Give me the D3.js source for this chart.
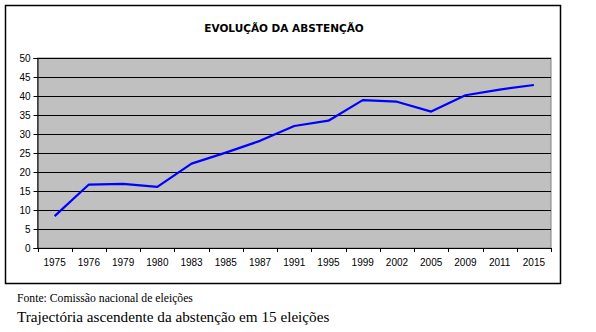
<!DOCTYPE html>
<html>
<head>
<meta charset="utf-8">
<script src="https://cdn.jsdelivr.net/npm/d3@7"></script>
<style>
  html, body { margin: 0; padding: 0; background: #fff; }
  svg { display: block; }
  .note { font-family: "Liberation Serif", "Times New Roman", serif; }
</style>
</head>
<body>
<svg id="chart" width="596" height="332"></svg>
<script>
// Election years and abstention rate (%)
const years = ["1975","1976","1979","1980","1983","1985","1987","1991","1995","1999","2002","2005","2009","2011","2015"];
const abstention = [8.4, 16.7, 16.9, 16.1, 22.2, 25.1, 28.2, 32.1, 33.5, 38.9, 38.5, 35.9, 40.2, 41.7, 42.9];
const yTicks = [0, 5, 10, 15, 20, 25, 30, 35, 40, 45, 50];

const title = "EVOLUÇÃO DA ABSTENÇÃO";
const source = "Fonte: Comissão nacional de eleições";
const caption = "Trajectória ascendente da abstenção em 15 eleições";

const svg = d3.select("#chart");

// chart frame
svg.append("rect")
  .attr("x", 5.5).attr("y", 5.5)
  .attr("width", 555).attr("height", 278)
  .attr("fill", "#fff").attr("stroke", "#000").attr("stroke-width", 1.5);

svg.append("text")
  .attr("x", 284).attr("y", 32)
  .attr("text-anchor", "middle")
  .style("font-family", "'DejaVu Sans', Verdana, sans-serif")
  .attr("font-weight", "bold").attr("font-size", 10.5)
  .attr("fill", "#000")
  .text(title);

const plot = { left: 37.5, right: 551, top: 58, bottom: 248 };

const x = d3.scaleBand().domain(years).range([plot.left, plot.right]);
const y = d3.scaleLinear().domain([0, 50]).range([plot.bottom, plot.top]);

// plot background
svg.append("rect")
  .attr("x", plot.left).attr("y", plot.top)
  .attr("width", plot.right - plot.left).attr("height", plot.bottom - plot.top)
  .attr("fill", "#c0c0c0").attr("stroke", "#808080").attr("stroke-width", 1);

// horizontal gridlines
svg.append("g")
  .selectAll("line")
  .data(yTicks.filter(d => d > 0))
  .join("line")
  .attr("x1", plot.left).attr("x2", plot.right)
  .attr("y1", d => Math.round(y(d)) + 0.5).attr("y2", d => Math.round(y(d)) + 0.5)
  .attr("stroke", "#000").attr("stroke-width", 1);

// y axis
const yAxis = svg.append("g")
  .attr("transform", `translate(${plot.left},0)`)
  .call(d3.axisLeft(y).tickValues(yTicks).tickSize(4).tickPadding(3));
yAxis.select(".domain").attr("stroke", "#000");
yAxis.selectAll(".tick line").attr("stroke", "#000");
yAxis.selectAll("text")
  .style("font-family", "'Liberation Sans', Arial, sans-serif")
  .attr("font-size", 10).attr("fill", "#000");

// x axis with ticks on category boundaries
const xAxis = svg.append("g")
  .attr("transform", `translate(0,${plot.bottom})`)
  .call(d3.axisBottom(x).tickSize(0).tickPadding(11));
xAxis.select(".domain").attr("stroke", "#000");
xAxis.selectAll("text")
  .style("font-family", "'Liberation Sans', Arial, sans-serif")
  .attr("font-size", 10).attr("fill", "#000");
xAxis.append("g")
  .selectAll("line")
  .data(years.concat([null]))
  .join("line")
  .attr("x1", (d, i) => Math.round(plot.left + i * x.step()) + 0.5)
  .attr("x2", (d, i) => Math.round(plot.left + i * x.step()) + 0.5)
  .attr("y1", 0).attr("y2", 4)
  .attr("stroke", "#000");

// abstention line
const line = d3.line()
  .x((d, i) => x(years[i]) + x.bandwidth() / 2)
  .y(d => y(d));

svg.append("path")
  .datum(abstention)
  .attr("d", line)
  .attr("fill", "none")
  .attr("stroke", "#0000ff")
  .attr("stroke-width", 2.2)
  .attr("stroke-linejoin", "round");

// notes below the chart
svg.append("text")
  .attr("class", "note")
  .attr("x", 17).attr("y", 302)
  .style("font-size", "11.7px").attr("fill", "#000")
  .text(source);

svg.append("text")
  .attr("class", "note")
  .attr("x", 17).attr("y", 322)
  .style("font-size", "15.2px").attr("fill", "#000")
  .text(caption);
</script>
</body>
</html>
